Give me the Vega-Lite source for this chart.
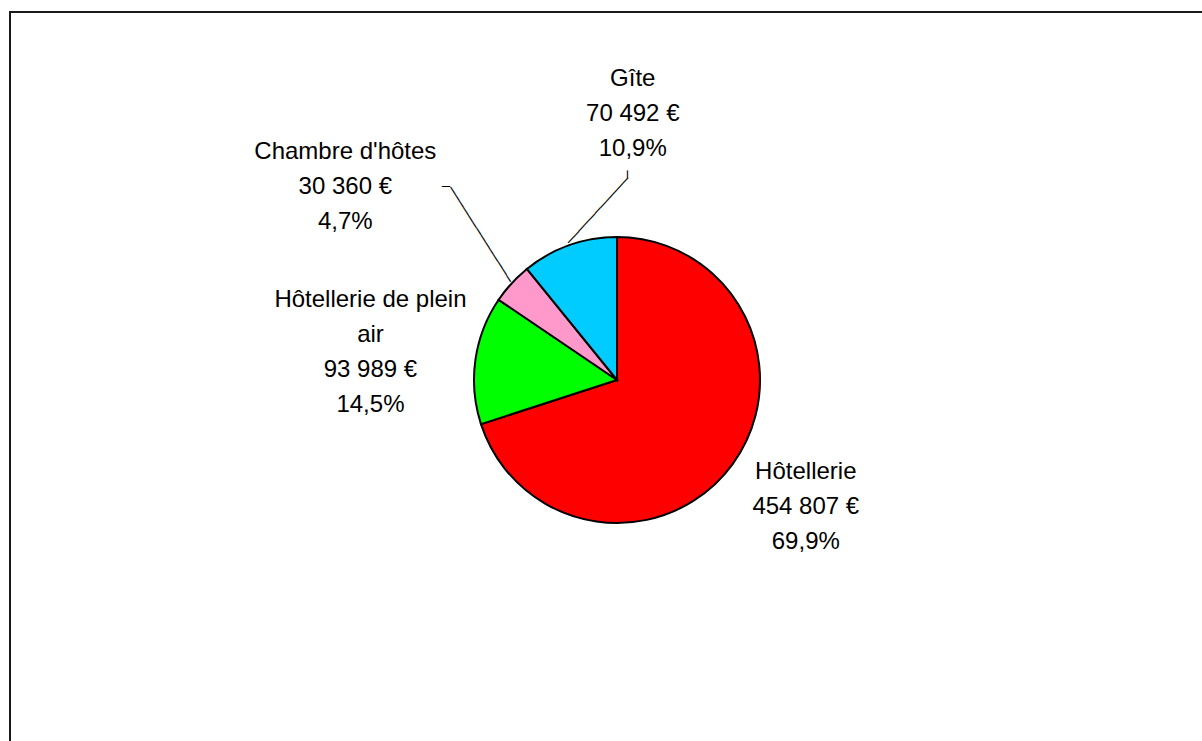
{
  "$schema": "https://vega.github.io/schema/vega-lite/v6.json",
  "width": 1214,
  "height": 736,
  "autosize": "none",
  "padding": {"left": 10, "top": 12, "right": 0, "bottom": 0},
  "background": "white",
  "view": {"stroke": "#1a1a1a", "strokeWidth": 2},
  "config": {"view": {"stroke": "#1a1a1a", "strokeWidth": 2}},
  "data": {"values": [
    {"categorie": "Hôtellerie", "montant": 454807, "etiquette": "Hôtellerie\n454 807 €\n69,9%"},
    {"categorie": "Hôtellerie de plein air", "montant": 93989, "etiquette": "Hôtellerie de plein\nair\n93 989 €\n14,5%"},
    {"categorie": "Chambre d'hôtes", "montant": 30360, "etiquette": "Chambre d'hôtes\n30 360 €\n4,7%"},
    {"categorie": "Gîte", "montant": 70492, "etiquette": "Gîte\n70 492 €\n10,9%"}
  ]},
  "transform": [{"window": [{"op": "row_number", "as": "rang"}]}],
  "encoding": {
    "theta": {"field": "montant", "type": "quantitative", "stack": true},
    "order": {"field": "rang", "type": "quantitative"},
    "detail": {"field": "categorie", "type": "nominal"}
  },
  "layer": [
    {
      "mark": {"type": "arc", "radius": 143, "stroke": "black", "strokeWidth": 2},
      "encoding": {
        "color": {
          "field": "categorie", "type": "nominal", "legend": null,
          "scale": {
            "domain": ["Hôtellerie", "Hôtellerie de plein air", "Chambre d'hôtes", "Gîte"],
            "range": ["#FF0000", "#00FF00", "#FF99CC", "#00CCFF"]
          }
        }
      }
    },
    {
      "mark": {"type": "text", "radius": 226, "dx": 6, "dy": -41, "font": "Liberation Sans", "fontSize": 24, "lineHeight": 35, "lineBreak": "\n", "align": "center", "baseline": "middle", "color": "black"},
      "encoding": {"text": {"condition": {"test": "datum.rang === 1", "field": "etiquette"}, "value": ""}}
    },
    {
      "mark": {"type": "text", "radius": 248, "dx": -1, "dy": -45, "font": "Liberation Sans", "fontSize": 24, "lineHeight": 35, "lineBreak": "\n", "align": "center", "baseline": "middle", "color": "black"},
      "encoding": {"text": {"condition": {"test": "datum.rang === 2", "field": "etiquette"}, "value": ""}}
    },
    {
      "mark": {"type": "text", "radius": 332, "dx": -27, "dy": -4, "font": "Liberation Sans", "fontSize": 24, "lineHeight": 35, "lineBreak": "\n", "align": "center", "baseline": "middle", "color": "black"},
      "encoding": {"text": {"condition": {"test": "datum.rang === 3", "field": "etiquette"}, "value": ""}}
    },
    {
      "mark": {"type": "text", "radius": 246, "dx": 98, "dy": -69, "font": "Liberation Sans", "fontSize": 24, "lineHeight": 35, "lineBreak": "\n", "align": "center", "baseline": "middle", "color": "black"},
      "encoding": {"text": {"condition": {"test": "datum.rang === 4", "field": "etiquette"}, "value": ""}}
    },
    {
      "mark": {"type": "text", "radius": 145, "angle": 312.6, "font": "DejaVu Sans Mono", "fontSize": 13.3, "align": "left", "baseline": "middle", "color": "black"},
      "encoding": {"text": {"condition": {"test": "datum.rang === 4", "value": "───────────"}, "value": ""}}
    },
    {
      "mark": {"type": "text", "radius": 145, "angle": 270, "dx": 64.8, "dy": 59.6, "font": "DejaVu Sans Mono", "fontSize": 13.3, "align": "left", "baseline": "middle", "color": "black"},
      "encoding": {"text": {"condition": {"test": "datum.rang === 4", "value": "─"}, "value": ""}}
    },
    {
      "mark": {"type": "text", "radius": 145, "angle": 57.56, "font": "DejaVu Sans Mono", "fontSize": 13.3, "align": "right", "baseline": "middle", "color": "black"},
      "encoding": {"text": {"condition": {"test": "datum.rang === 3", "value": "──────────────"}, "value": ""}}
    },
    {
      "mark": {"type": "text", "radius": 145, "dx": -60, "dy": -94.6, "font": "DejaVu Sans Mono", "fontSize": 13.3, "align": "right", "baseline": "middle", "color": "black"},
      "encoding": {"text": {"condition": {"test": "datum.rang === 3", "value": "─"}, "value": ""}}
    }
  ]
}
